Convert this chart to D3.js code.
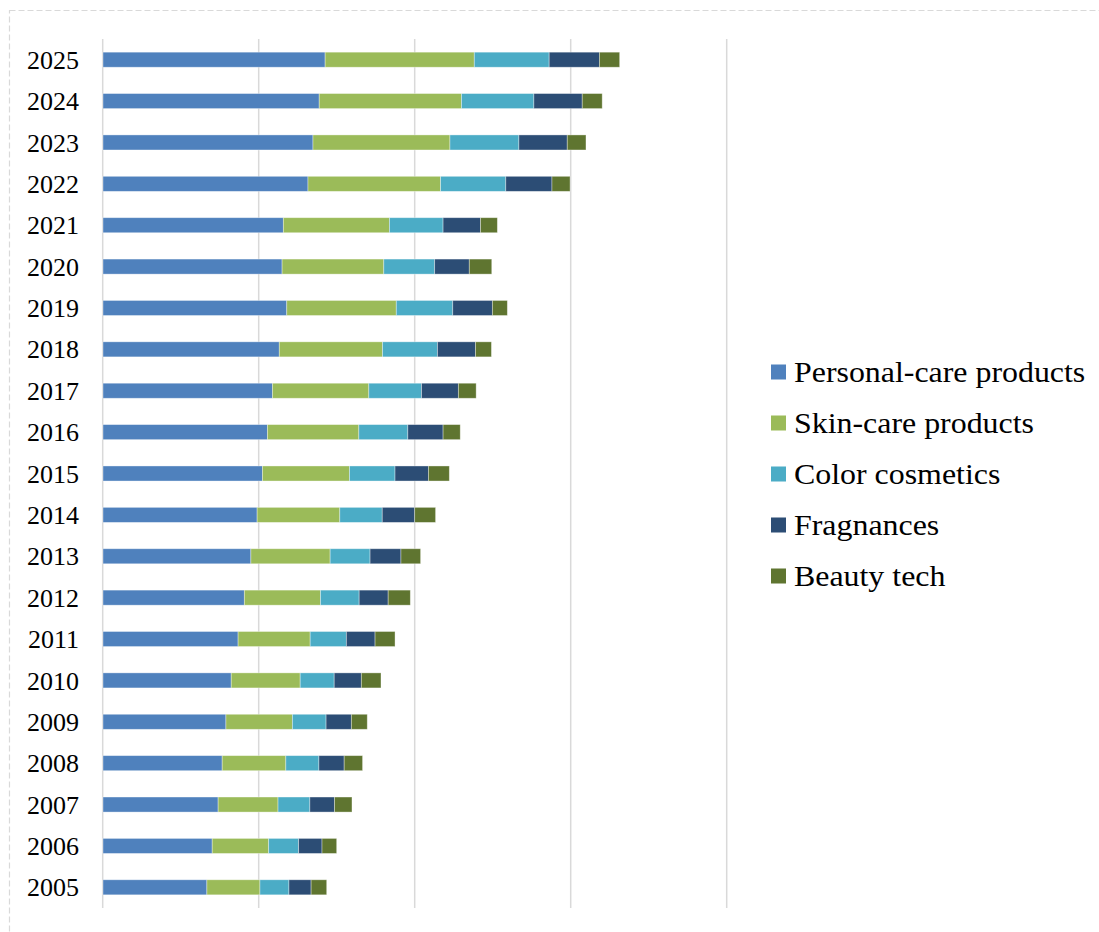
<!DOCTYPE html>
<html>
<head>
<meta charset="utf-8">
<script src="https://cdn.jsdelivr.net/npm/d3@7"></script>
<style>
  body { margin: 0; background: #fff; }
  text { font-family: "Liberation Serif", "Times New Roman", serif; fill: #000; }
</style>
</head>
<body>
<script>
var width = 1099, height = 932;

var years = ["2005","2006","2007","2008","2009","2010","2011","2012","2013","2014","2015",
             "2016","2017","2018","2019","2020","2021","2022","2023","2024","2025"];
var seriesNames = ["Personal-care products","Skin-care products","Color cosmetics","Fragnances","Beauty tech"];
var seriesColors = ["#4f81bd","#9bbb59","#4bacc6","#2c4d75","#5f7530"];

var personalCare = [33.3,35.0,36.9,38.2,39.4,41.1,43.3,45.3,47.4,49.4,51.1,52.7,54.3,56.5,58.9,57.4,57.8,65.7,67.3,69.3,71.2];
var skinCare     = [17.0,18.1,19.2,20.4,21.3,22.1,23.1,24.4,25.4,26.5,27.9,29.3,30.9,33.1,35.1,32.6,34.0,42.5,43.9,45.6,47.8];
var colorCosm    = [9.3,9.6,10.2,10.6,10.8,10.9,11.6,12.4,12.8,13.6,14.6,15.7,16.9,17.6,18.1,16.3,17.2,20.9,22.1,23.2,24.0];
var fragrances   = [7.1,7.5,7.9,8.1,8.1,8.7,9.2,9.3,9.9,10.4,10.7,11.3,11.8,12.2,12.7,11.1,12.0,14.8,15.5,15.5,16.1];
var beautyTech   = [5.0,4.7,5.6,5.9,5.1,6.3,6.4,7.1,6.3,6.7,6.7,5.5,5.7,5.1,4.8,7.2,5.4,5.8,6.0,6.4,6.5];

var gridTicks = [0, 50, 100, 150, 200];

var allSeries = [personalCare, skinCare, colorCosm, fragrances, beautyTech];
var table = years.map(function(y, i) {
  var row = {year: y};
  seriesNames.forEach(function(s, k) { row[s] = allSeries[k][i]; });
  return row;
});

var svg = d3.select("body").append("svg")
    .attr("width", width).attr("height", height);

// dashed chart-area border
svg.append("rect")
    .attr("x", 9.5).attr("y", 10.5)
    .attr("width", width).attr("height", height)
    .attr("fill", "none")
    .attr("stroke", "#d9d9d9")
    .attr("stroke-width", 1.2)
    .attr("stroke-dasharray", "6,3");

var x = d3.scaleLinear().domain([0, 200]).range([103, 727]);
var y = d3.scaleBand().domain(years.slice().reverse()).range([39, 908])
    .paddingInner(1.75 / 2.75).paddingOuter(0.875 / 2.75);
var colors = d3.scaleOrdinal().domain(seriesNames).range(seriesColors);

// gridlines
svg.append("g").selectAll("line").data(gridTicks).enter().append("line")
    .attr("x1", function(d) { return x(d) - 0.3; })
    .attr("x2", function(d) { return x(d) - 0.3; })
    .attr("y1", 39).attr("y2", 908)
    .attr("stroke", "#d9d9d9")
    .attr("stroke-width", 1.5);

var stacked = d3.stack().keys(seriesNames)(table);

svg.append("g").selectAll("g").data(stacked).enter().append("g")
    .attr("fill", function(d) { return colors(d.key); })
  .selectAll("rect").data(function(d) { return d; }).enter().append("rect")
    .attr("x", function(d) { return x(d[0]); })
    .attr("y", function(d) { return y(d.data.year); })
    .attr("width", function(d) { return x(d[1]) - x(d[0]); })
    .attr("height", y.bandwidth())
    .attr("stroke", "#fff")
    .attr("stroke-opacity", 0.45)
    .attr("stroke-width", 0.8);

// year labels
svg.append("g").selectAll("text").data(years).enter().append("text")
    .attr("x", 79)
    .attr("y", function(d) { return y(d) + y.bandwidth() / 2; })
    .attr("dy", "0.35em")
    .attr("text-anchor", "end")
    .style("font-size", "26px")
    .text(function(d) { return d; });

// legend
var legend = svg.append("g").attr("transform", "translate(771, 372)")
  .selectAll(".legends").data(seriesNames).enter().append("g")
    .classed("legends", true)
    .attr("transform", function(d, i) { return "translate(0," + i * 51 + ")"; });

legend.append("rect")
    .attr("x", 0).attr("y", -7.5)
    .attr("width", 15).attr("height", 15)
    .attr("fill", function(d) { return colors(d); });
legend.append("text")
    .attr("transform", "translate(23,0) scale(1.1,1)")
    .attr("dy", "0.35em")
    .style("font-size", "29px")
    .text(function(d) { return d; });
</script>
</body>
</html>
